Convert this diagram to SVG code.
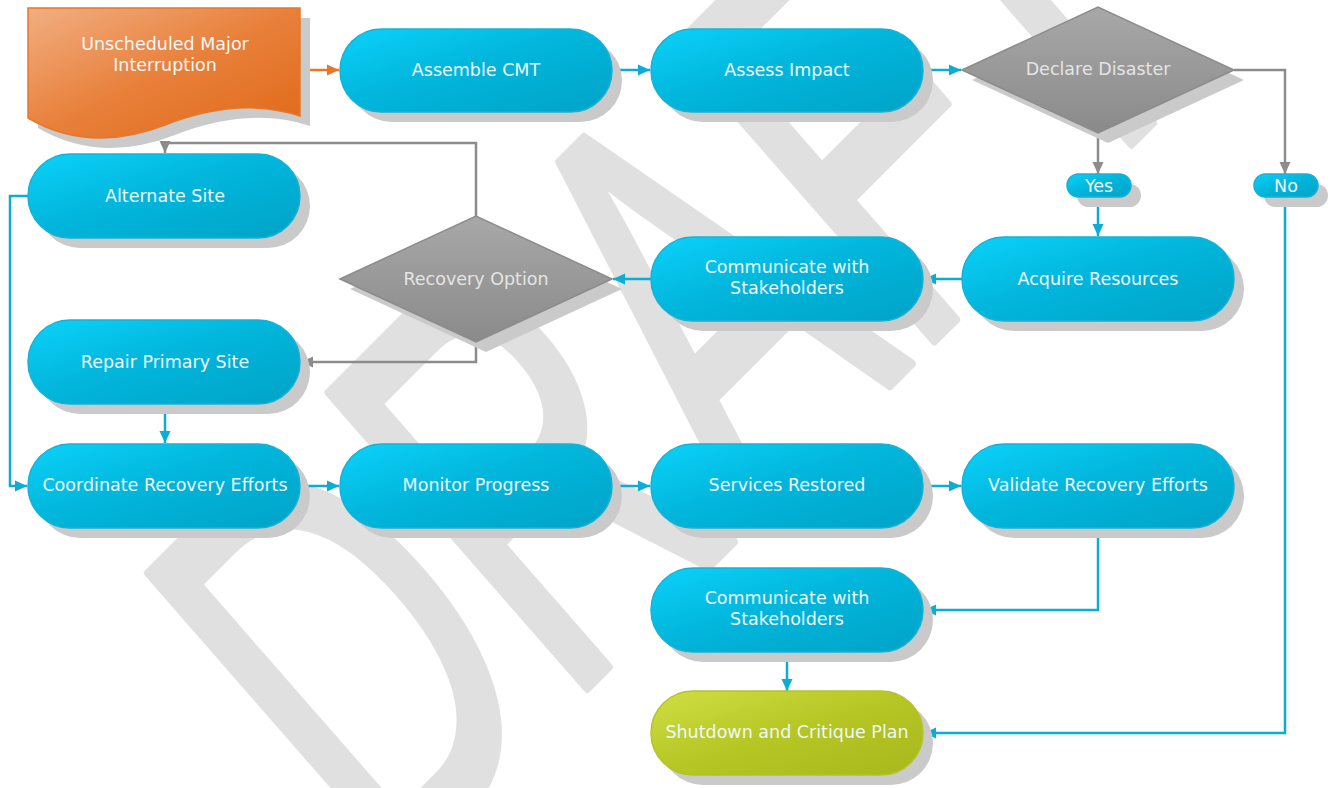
<svg xmlns="http://www.w3.org/2000/svg" width="1330" height="788" viewBox="0 0 1330 788">
<defs>
<linearGradient id="gB" x1="0" y1="0" x2="1" y2="1"><stop offset="0" stop-color="#0bd2fa"/><stop offset="0.45" stop-color="#02b6dc"/><stop offset="1" stop-color="#00a3c7"/></linearGradient>
<linearGradient id="gG" x1="0" y1="0" x2="1" y2="1"><stop offset="0" stop-color="#d0de44"/><stop offset="0.5" stop-color="#b6c624"/><stop offset="1" stop-color="#a8b81c"/></linearGradient>
<linearGradient id="gO" x1="0" y1="0" x2="1" y2="1"><stop offset="0" stop-color="#f2ae82"/><stop offset="0.5" stop-color="#e8803a"/><stop offset="1" stop-color="#e06818"/></linearGradient>
<linearGradient id="gD" x1="0" y1="0" x2="0" y2="1"><stop offset="0" stop-color="#a8a8a8"/><stop offset="1" stop-color="#8a8a8a"/></linearGradient>
<marker id="aB" markerUnits="userSpaceOnUse" markerWidth="12" markerHeight="12" refX="12" refY="6" orient="auto"><path d="M0,0.5 L12,6 L0,11.5 z" fill="#0aaed4"/></marker>
<marker id="aG" markerUnits="userSpaceOnUse" markerWidth="12" markerHeight="12" refX="12" refY="6" orient="auto"><path d="M0,0.5 L12,6 L0,11.5 z" fill="#8c8c8c"/></marker>
<marker id="aO" markerUnits="userSpaceOnUse" markerWidth="12" markerHeight="12" refX="12" refY="6" orient="auto"><path d="M0,0.5 L12,6 L0,11.5 z" fill="#e8772a"/></marker>
</defs>
<style>
.sh{fill:#cacaca}
.pill{fill:url(#gB);stroke:#16b2d6;stroke-width:1.5}
.lbl{font-family:"DejaVu Sans",Verdana,sans-serif;font-size:17.5px;fill:#eef8fc;text-anchor:middle}
.dl{fill:#e4e4e4}
.dia{fill:url(#gD);stroke:#8c8c8c;stroke-width:1.5}
.cb{fill:none;stroke:#0aaed4;stroke-width:2.5;marker-end:url(#aB)}
.cg{fill:none;stroke:#8c8c8c;stroke-width:2.5;marker-end:url(#aG)}
.co{fill:none;stroke:#e8772a;stroke-width:2.5;marker-end:url(#aO)}
.wm{font-family:"Liberation Sans",Arial,sans-serif;font-size:100px;fill:#e0e0e0;stroke:#e0e0e0;stroke-width:1.6;stroke-linejoin:round}
</style>
<rect width="1330" height="788" fill="#ffffff"/>
<text class="wm" transform="matrix(2.5,-2.5,3.75,4.29,385,890)">DRAFT</text>

<g id="connectors">
<path class="co" d="M300,70 H339"/>
<path class="cb" d="M612,70 H650"/>
<path class="cb" d="M923,70 H961"/>
<path class="cg" d="M1098,133 V174"/>
<path class="cg" d="M1234,70 H1285 V174"/>
<path class="cb" d="M1098,197 V236"/>
<path class="cb" d="M1285,197 V733 H924"/>
<path class="cb" d="M962,279 H924"/>
<path class="cb" d="M651,279 H613"/>
<path class="cg" d="M476,216 V143 H165 V153"/>
<path class="cg" d="M476,342 V362 H301"/>
<path class="cb" d="M28,196 H10 V486 H27"/>
<path class="cb" d="M165,404 V443"/>
<path class="cb" d="M300,486 H339"/>
<path class="cb" d="M612,486 H650"/>
<path class="cb" d="M923,486 H961"/>
<path class="cb" d="M1098,528 V610 H924"/>
<path class="cb" d="M787,652 V691"/>
</g>

<g id="n-unscheduled">
<path class="sh" transform="translate(10,10)" d="M28,8 H300 V116 Q240,96 165,125 T28,118 Z"/>
<path d="M28,8 H300 V116 Q240,96 165,125 T28,118 Z" fill="url(#gO)" stroke="#e8772a" stroke-width="1.5"/>
<text class="lbl" x="165" y="50">Unscheduled Major</text>
<text class="lbl" x="165" y="71">Interruption</text>
</g>

<g id="n-assemble">
<rect class="sh" x="350" y="39" width="272" height="83" rx="41.5"/>
<rect class="pill" x="340" y="29" width="272" height="83" rx="41.5"/>
<text class="lbl" x="476" y="76">Assemble CMT</text>
</g>

<g id="n-assess">
<rect class="sh" x="661" y="39" width="272" height="83" rx="41.5"/>
<rect class="pill" x="651" y="29" width="272" height="83" rx="41.5"/>
<text class="lbl" x="787" y="76">Assess Impact</text>
</g>

<g id="n-declare">
<polygon class="sh" transform="translate(10,10)" points="962,70 1098,7 1234,70 1098,133"/>
<polygon class="dia" points="962,70 1098,7 1234,70 1098,133"/>
<text class="lbl dl" x="1098" y="75">Declare Disaster</text>
</g>

<g id="n-yes">
<rect class="sh" x="1077" y="184" width="64" height="23" rx="11.5"/>
<rect class="pill" x="1067" y="174" width="64" height="23" rx="11.5"/>
<text class="lbl" x="1099" y="192">Yes</text>
</g>

<g id="n-no">
<rect class="sh" x="1264" y="184" width="64" height="23" rx="11.5"/>
<rect class="pill" x="1254" y="174" width="64" height="23" rx="11.5"/>
<text class="lbl" x="1286" y="192">No</text>
</g>

<g id="n-alternate">
<rect class="sh" x="38" y="164" width="272" height="84" rx="42"/>
<rect class="pill" x="28" y="154" width="272" height="84" rx="42"/>
<text class="lbl" x="165" y="202">Alternate Site</text>
</g>

<g id="n-recovery">
<polygon class="sh" transform="translate(10,10)" points="340,279 476,216 612,279 476,342"/>
<polygon class="dia" points="340,279 476,216 612,279 476,342"/>
<text class="lbl dl" x="476" y="285">Recovery Option</text>
</g>

<g id="n-communicate1">
<rect class="sh" x="661" y="247" width="272" height="84" rx="42"/>
<rect class="pill" x="651" y="237" width="272" height="84" rx="42"/>
<text class="lbl" x="787" y="273">Communicate with</text>
<text class="lbl" x="787" y="294">Stakeholders</text>
</g>

<g id="n-acquire">
<rect class="sh" x="972" y="247" width="272" height="84" rx="42"/>
<rect class="pill" x="962" y="237" width="272" height="84" rx="42"/>
<text class="lbl" x="1098" y="285">Acquire Resources</text>
</g>

<g id="n-repair">
<rect class="sh" x="38" y="330" width="272" height="84" rx="42"/>
<rect class="pill" x="28" y="320" width="272" height="84" rx="42"/>
<text class="lbl" x="165" y="368">Repair Primary Site</text>
</g>

<g id="n-coordinate">
<rect class="sh" x="38" y="454" width="272" height="84" rx="42"/>
<rect class="pill" x="28" y="444" width="272" height="84" rx="42"/>
<text class="lbl" x="165" y="491">Coordinate Recovery Efforts</text>
</g>

<g id="n-monitor">
<rect class="sh" x="350" y="454" width="272" height="84" rx="42"/>
<rect class="pill" x="340" y="444" width="272" height="84" rx="42"/>
<text class="lbl" x="476" y="491">Monitor Progress</text>
</g>

<g id="n-services">
<rect class="sh" x="661" y="454" width="272" height="84" rx="42"/>
<rect class="pill" x="651" y="444" width="272" height="84" rx="42"/>
<text class="lbl" x="787" y="491">Services Restored</text>
</g>

<g id="n-validate">
<rect class="sh" x="972" y="454" width="272" height="84" rx="42"/>
<rect class="pill" x="962" y="444" width="272" height="84" rx="42"/>
<text class="lbl" x="1098" y="491">Validate Recovery Efforts</text>
</g>

<g id="n-communicate2">
<rect class="sh" x="661" y="578" width="272" height="84" rx="42"/>
<rect class="pill" x="651" y="568" width="272" height="84" rx="42"/>
<text class="lbl" x="787" y="604">Communicate with</text>
<text class="lbl" x="787" y="625">Stakeholders</text>
</g>

<g id="n-shutdown">
<rect class="sh" x="661" y="701" width="272" height="84" rx="42"/>
<rect x="651" y="691" width="272" height="84" rx="42" fill="url(#gG)" stroke="#b4c428" stroke-width="1.5"/>
<text class="lbl" x="787" y="738">Shutdown and Critique Plan</text>
</g>
</svg>
